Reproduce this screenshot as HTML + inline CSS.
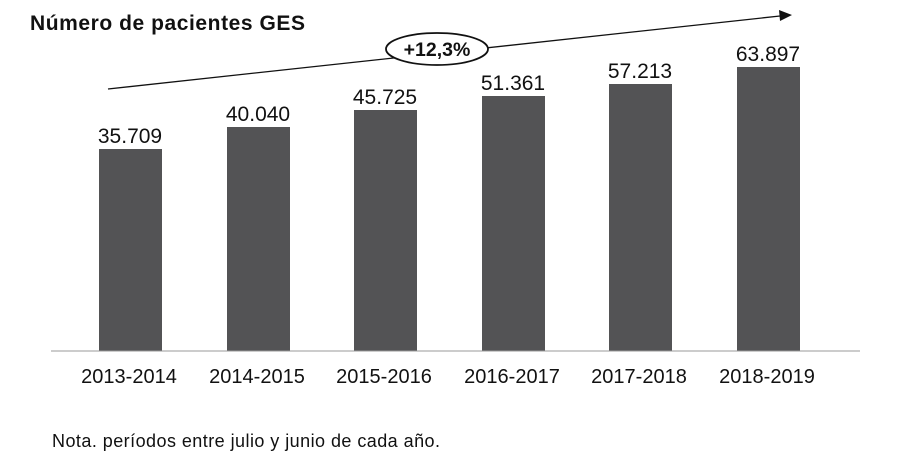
<!DOCTYPE html>
<html><head><meta charset="utf-8"><style>
body{margin:0;background:#fff;width:904px;height:462px;overflow:hidden}
</style></head><body>
<svg width="904" height="462" xmlns="http://www.w3.org/2000/svg" font-family="Liberation Sans, sans-serif">
<text x="30" y="30" font-size="21" font-weight="bold" fill="#111" textLength="275">Número de pacientes GES</text>
<line x1="108" y1="89" x2="780" y2="16" stroke="#111" stroke-width="1.3"/>
<polygon points="792,15 779,10 780,21" fill="#111"/>
<ellipse cx="437" cy="49" rx="51" ry="16" fill="#fff" stroke="#111" stroke-width="1.8"/>
<text x="437" y="56" font-size="19.5" font-weight="bold" text-anchor="middle" fill="#111">+12,3%</text>
<g fill="#535355">
<rect x="99" y="149" width="63" height="202"/>
<rect x="227" y="127" width="63" height="224"/>
<rect x="354" y="110" width="63" height="241"/>
<rect x="482" y="96" width="63" height="255"/>
<rect x="609" y="84" width="63" height="267"/>
<rect x="737" y="67" width="63" height="284"/>
</g>
<line x1="51" y1="351" x2="860" y2="351" stroke="#999" stroke-width="1"/>
<g font-size="21" fill="#111" text-anchor="middle">
<text x="130" y="143">35.709</text>
<text x="258" y="121">40.040</text>
<text x="385" y="104">45.725</text>
<text x="513" y="90">51.361</text>
<text x="640" y="78">57.213</text>
<text x="768" y="61">63.897</text>
</g>
<g font-size="20" fill="#111" text-anchor="middle">
<text x="129" y="383">2013-2014</text>
<text x="257" y="383">2014-2015</text>
<text x="384" y="383">2015-2016</text>
<text x="512" y="383">2016-2017</text>
<text x="639" y="383">2017-2018</text>
<text x="767" y="383">2018-2019</text>
</g>
<text x="52" y="447" font-size="18" fill="#111" textLength="388">Nota. períodos entre julio y junio de cada año.</text>
</svg>
</body></html>
